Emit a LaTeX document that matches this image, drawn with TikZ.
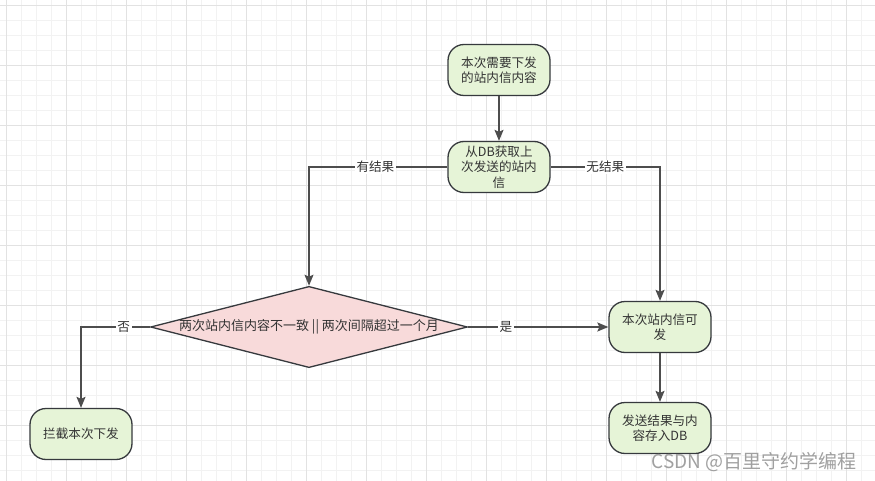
\documentclass[tikz,border=0pt]{standalone}
\usepackage{fontspec}
\setmainfont{Noto Sans CJK SC}
\usetikzlibrary{shapes.geometric,arrows.meta}
\definecolor{gminor}{HTML}{F2F2F2}
\definecolor{gmajor}{HTML}{E2E2E2}
\definecolor{nfill}{HTML}{E6F4D7}
\definecolor{dfill}{HTML}{F8DADA}
\definecolor{nborder}{HTML}{36393D}
\definecolor{ecol}{HTML}{4D4D4D}
\definecolor{tcol}{HTML}{333333}
\definecolor{wcol}{HTML}{A0A0A0}
\tikzset{
  procbox/.style={draw=nborder, fill=nfill, line width=1.3pt, rounded corners=16pt,
    minimum width=102pt, minimum height=51pt, inner sep=0pt, align=center,
    text=tcol, font=\fontsize{12.6}{15.5}\selectfont},
  decbox/.style={draw=nborder, fill=dfill, line width=1.3pt, diamond, aspect=3.9,
    minimum width=314pt, minimum height=80pt, inner sep=0pt, text=tcol,
    font=\fontsize{13}{15}\selectfont},
  edge/.style={draw=ecol, line width=1.4pt, -{Stealth[length=11pt,width=9pt,inset=2pt]}},
  lbl/.style={fill=white, inner sep=1.5pt, text=tcol, font=\fontsize{12.6}{14}\selectfont}
}
\begin{document}
\begin{tikzpicture}[x=1pt,y=-1pt]
\useasboundingbox (0,0) rectangle (875,481);
\fill[white] (0,0) rectangle (875,481);
\foreach \i in {0,...,58} {
  \draw[gminor, line width=0.7pt] (6.7+15*\i,0) -- (6.7+15*\i,481);
}
\foreach \i in {0,...,32} {
  \draw[gminor, line width=0.7pt] (0,5+15*\i) -- (875,5+15*\i);
}
\foreach \i in {0,...,14} {
  \draw[gmajor, line width=0.8pt] (6.7+60*\i,0) -- (6.7+60*\i,481);
}
\foreach \i in {0,...,8} {
  \draw[gmajor, line width=0.8pt] (0,5+60*\i) -- (875,5+60*\i);
}

\node[procbox] (n1) at (499,70) {本次需要下发\\的站内信内容};
\node[procbox] (n2) at (499,167) {从DB获取上\\次发送的站内\\信};
\node[decbox] (d) at (309,327) {两次站内信内容不一致 || 两次间隔超过一个月};
\node[procbox] (n4) at (660,327) {本次站内信可\\发};
\node[procbox] (n5) at (660,428) {发送结果与内\\容存入DB};
\node[procbox] (n6) at (81,434) {拦截本次下发};

\draw[edge] (n1) -- (n2);
\draw[edge] (n2.west) -| node[pos=0.26,lbl]{有结果} (d.north);
\draw[edge] (n2.east) -| node[pos=0.25,lbl]{无结果} (n4.north);
\draw[edge] (d.east) -- node[pos=0.27,lbl]{是} (n4.west);
\draw[edge] (d.west) -| node[pos=0.19,lbl]{否} (n6.north);
\draw[edge] (n4) -- (n5);

\node[text=wcol, font=\fontsize{19}{22}\selectfont, inner sep=0pt] (wm) at (754,462) {CSDN @百里守约学编程};
\end{tikzpicture}
\end{document}
